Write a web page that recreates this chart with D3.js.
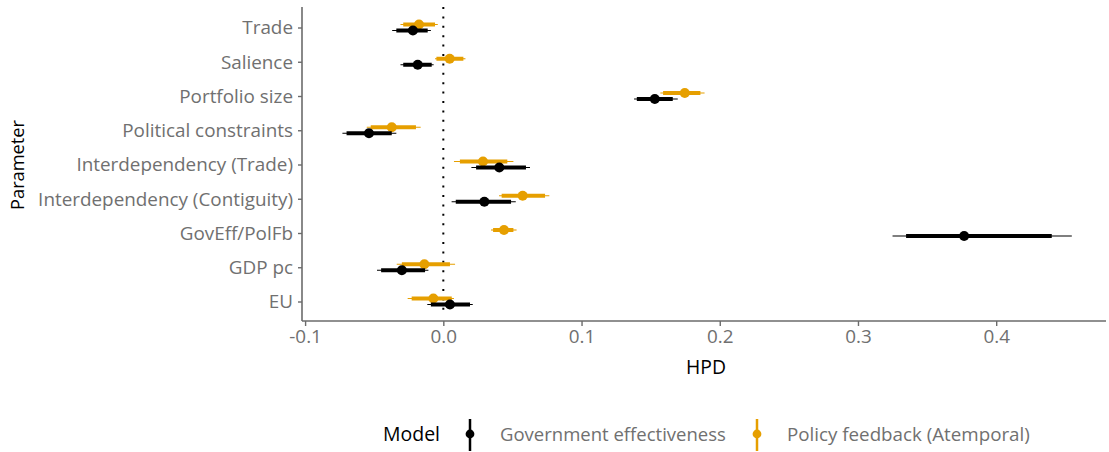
<!DOCTYPE html>
<html><head><meta charset="utf-8">
<script src="https://cdn.jsdelivr.net/npm/d3@7"></script>
<style>body{margin:0;background:#fff}svg{display:block}text{font-family:"Open Sans","Noto Sans",sans-serif}</style>
</head><body><svg id="c" width="1109" height="452"></svg>
<script>
const parameters = ["Trade","Salience","Portfolio size","Political constraints","Interdependency (Trade)","Interdependency (Contiguity)","GovEff/PolFb","GDP pc","EU"];
const models = ["Government effectiveness","Policy feedback (Atemporal)"];
const modelColors = ["#000000","#E69F00"];
const xTicks = [-0.1,0,0.1,0.2,0.3,0.4];
const xTickLabels = ["-0.1","0.0","0.1","0.2","0.3","0.4"];
// Government effectiveness: estimate, inner HPD low/high, outer HPD low/high
const govEst    = [-0.022,-0.0185,0.153,-0.0538,0.0405,0.0297,0.3768,-0.030,0.0048];
const govInLo   = [-0.034,-0.029,0.140,-0.070,0.0237,0.009,0.3348,-0.045,-0.009];
const govInHi   = [-0.0113,-0.0084,0.166,-0.0373,0.0598,0.049,0.4402,-0.0132,0.0193];
const govOutLo  = [-0.037,-0.031,0.138,-0.073,0.0203,0.006,0.325,-0.048,-0.0116];
const govOutHi  = [-0.009,-0.007,0.1696,-0.034,0.0627,0.0524,0.4547,-0.0108,0.0213];
// Policy feedback (Atemporal)
const pfEst     = [-0.0176,0.0046,0.1747,-0.0373,0.0287,0.0574,0.0439,-0.0137,-0.0072];
const pfInLo    = [-0.029,-0.005,0.159,-0.0525,0.012,0.0422,0.036,-0.030,-0.0229];
const pfInHi    = [-0.006,0.0145,0.186,-0.0198,0.0463,0.0736,0.0507,0.0048,0.0061];
const pfOutLo   = [-0.031,-0.006,0.157,-0.0554,0.0077,0.0403,0.0345,-0.0337,-0.0258];
const pfOutHi   = [-0.004,0.016,0.189,-0.0164,0.0507,0.0767,0.053,0.0085,0.0077];

const series = [
  {model:models[0], color:modelColors[0], off:3, est:govEst, inLo:govInLo, inHi:govInHi, outLo:govOutLo, outHi:govOutHi},
  {model:models[1], color:modelColors[1], off:-3, est:pfEst, inLo:pfInLo, inHi:pfInHi, outLo:pfOutLo, outHi:pfOutHi}
];

const svg = d3.select("#c");
const panel = {left:302, right:1106, top:9, bottom:321};
const x = d3.scaleLinear().domain([-0.1,0.4]).range([305.1,996.2]);
const y = d3.scalePoint().domain(parameters).range([27.5,301.5]);
const axisCol = "#6b6b6b", txtCol = "#707070";

function fit(sel, target){
  const n = sel.node(); const fs = parseFloat(sel.attr("font-size"));
  const w = n.getComputedTextLength(); sel.attr("font-size", fs*target/w);
}

svg.append("line").attr("x1",x(0)).attr("x2",x(0)).attr("y1",panel.top-2).attr("y2",panel.bottom-4)
  .attr("stroke","#000").attr("stroke-width",2).attr("stroke-dasharray","2,7.4");

series.slice().reverse().forEach(s=>{
  const g = svg.append("g");
  parameters.forEach((p,i)=>{
    const yy = y(p)+s.off;
    g.append("line").attr("x1",x(s.outLo[i])).attr("x2",x(s.outHi[i])).attr("y1",yy).attr("y2",yy)
      .attr("stroke",s.color).attr("stroke-width",1.1);
    g.append("line").attr("x1",x(s.inLo[i])).attr("x2",x(s.inHi[i])).attr("y1",yy).attr("y2",yy)
      .attr("stroke",s.color).attr("stroke-width",4);
    g.append("circle").attr("cx",x(s.est[i])).attr("cy",yy).attr("r",5).attr("fill",s.color);
  });
});

const xAxis = svg.append("g").attr("transform",`translate(0,${panel.bottom})`)
  .call(d3.axisBottom(x).tickValues(xTicks).tickFormat((d,i)=>xTickLabels[i]).tickSize(5).tickPadding(3));
xAxis.select(".domain").remove();
xAxis.append("line").attr("x1",panel.left).attr("x2",panel.right).attr("stroke",axisCol).attr("stroke-width",1.6);
xAxis.selectAll(".tick line").attr("stroke",axisCol).attr("stroke-width",1.4);
xAxis.selectAll(".tick text").attr("fill",txtCol).attr("font-size",16);

const yAxis = svg.append("g").attr("transform",`translate(${panel.left},0)`)
  .call(d3.axisLeft(y).tickSize(4).tickPadding(5));
yAxis.select(".domain").remove();
yAxis.append("line").attr("y1",panel.top-2).attr("y2",panel.bottom).attr("stroke",axisCol).attr("stroke-width",1.6);
yAxis.selectAll(".tick line").attr("stroke",axisCol).attr("stroke-width",1.4);
yAxis.selectAll(".tick text").attr("fill",txtCol).attr("font-size",16);
{
  const t = yAxis.selectAll(".tick text").filter(d=>d==="Interdependency (Contiguity)");
  const w = t.node().getComputedTextLength();
  const fs = 16*255/w;
  yAxis.selectAll(".tick text").attr("font-size",fs).attr("dy","0.34em");
  xAxis.selectAll(".tick text").attr("font-size",fs).attr("dy","0.75em");
}

const hpd = svg.append("text").attr("x",706).attr("y",374).attr("text-anchor","middle").attr("font-size",17).attr("fill","#000").text("HPD");
fit(hpd,40);
const par = svg.append("text").attr("transform","translate(24,165) rotate(-90)").attr("text-anchor","middle").attr("font-size",17).attr("fill","#000").text("Parameter");
fit(par,90);

const leg = svg.append("g");
const mt = leg.append("text").attr("x",383).attr("y",441).attr("font-size",17).attr("fill","#000").text("Model");
fit(mt,57);
const legX = [470, 757];
const legW = [226, 243];
series.forEach((s,i)=>{
  leg.append("line").attr("x1",legX[i]).attr("x2",legX[i]).attr("y1",419).attr("y2",451).attr("stroke",s.color).attr("stroke-width",2.5);
  leg.append("circle").attr("cx",legX[i]).attr("cy",434).attr("r",4.4).attr("fill",s.color);
  const t = leg.append("text").attr("x",legX[i]+30).attr("y",441).attr("font-size",17).attr("fill",txtCol).text(s.model);
  fit(t,legW[i]);
});
</script></body></html>
